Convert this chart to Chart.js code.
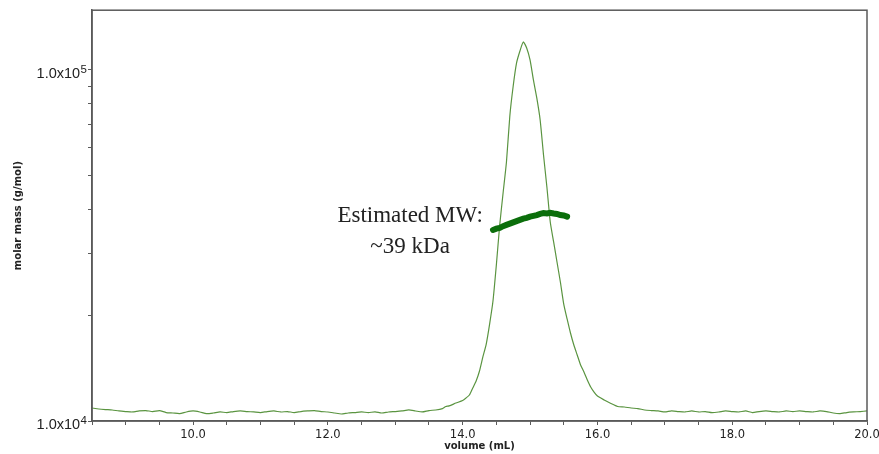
<!DOCTYPE html>
<html>
<head>
<meta charset="utf-8">
<script src="https://cdn.jsdelivr.net/npm/chart.js@4"></script>
<style>
  html, body { margin: 0; padding: 0; background: #ffffff; }
  #wrap { width: 879px; height: 454px; }
</style>
</head>
<body>
<div id="wrap"><canvas id="c" width="879" height="454"></canvas></div>
<script>
// ---- data ----
const volume = [
  8.5, 8.6, 8.7, 8.8, 8.9, 9.0, 9.1, 9.2, 9.3, 9.4, 9.5, 9.6, 9.7, 9.8, 9.9,
  10.0, 10.1, 10.2, 10.3, 10.4, 10.5, 10.6, 10.7, 10.8, 10.9,
  11.0, 11.1, 11.2, 11.3, 11.4, 11.5, 11.6, 11.7, 11.8, 11.9,
  12.0, 12.1, 12.2, 12.3, 12.4, 12.5, 12.6, 12.7, 12.8, 12.9,
  13.0, 13.1, 13.2, 13.3, 13.4, 13.5, 13.6, 13.7, 13.75, 13.8, 13.9,
  14.0, 14.05, 14.1, 14.15, 14.2, 14.25, 14.3, 14.35, 14.4, 14.45,
  14.5, 14.55, 14.6, 14.65, 14.7, 14.75, 14.8, 14.85, 14.9, 14.95,
  15.0, 15.05, 15.1, 15.15, 15.2, 15.25, 15.3, 15.35, 15.4, 15.45,
  15.5, 15.55, 15.6, 15.65, 15.7, 15.75, 15.8, 15.85, 15.9, 15.95,
  16.0, 16.1, 16.2, 16.3, 16.4, 16.5, 16.6, 16.7, 16.8, 16.9,
  17.0, 17.1, 17.2, 17.3, 17.4, 17.5, 17.6, 17.7, 17.8, 17.9,
  18.0, 18.1, 18.2, 18.3, 18.4, 18.5, 18.6, 18.7, 18.8, 18.9,
  19.0, 19.1, 19.2, 19.3, 19.4, 19.5, 19.6, 19.7, 19.8, 19.9, 20.0
];
const signal = [
  10890, 10820, 10780, 10750, 10680, 10640, 10610, 10680, 10710, 10640, 10710, 10570, 10540, 10500, 10610,
  10680, 10610, 10500, 10540, 10610, 10570, 10640, 10680, 10640, 10610,
  10570, 10640, 10680, 10610, 10640, 10570, 10640, 10680, 10710, 10640,
  10610, 10540, 10470, 10540, 10570, 10610, 10570, 10610, 10540, 10610,
  10640, 10680, 10750, 10680, 10610, 10710, 10750, 10850, 11000, 11040, 11250,
  11440, 11630, 11860, 12420, 13000, 13880, 15220, 16570, 18890, 21970,
  27830, 36170, 44630, 54690, 73950, 90030, 104700, 113250, 120180, 115500,
  106780, 93650, 83220, 72040, 57270, 46420, 36890, 32360, 28380, 24890,
  21540, 19530, 17810, 16460, 15420, 14440, 13790, 13090, 12500, 12090,
  11780, 11480, 11220, 11000, 10960, 10890, 10850, 10750, 10710, 10680,
  10610, 10680, 10640, 10610, 10680, 10610, 10640, 10570, 10610, 10680,
  10640, 10610, 10680, 10570, 10640, 10680, 10640, 10610, 10680, 10640,
  10680, 10640, 10610, 10680, 10640, 10540, 10500, 10570, 10610, 10640, 10680
];
const mwVolume = [
  14.45, 14.5, 14.55, 14.6, 14.65, 14.7, 14.75, 14.8, 14.85, 14.9, 14.95,
  15.0, 15.05, 15.1, 15.15, 15.2, 15.25, 15.3, 15.35, 15.4, 15.45, 15.5, 15.55
];
const mwValue = [
  35000, 35300, 35500, 35900, 36200, 36500, 36800, 37100, 37400, 37700, 37900,
  38200, 38400, 38600, 38900, 39100, 39000, 39200, 39000, 38900, 38600, 38500, 38200
];
const xMajorLabels = [10, 12, 14, 16, 18, 20];
const yTickValues = [10000, 20000, 30000, 40000, 50000, 60000, 70000, 80000, 90000, 100000];
const yLabelled = [{value: 10000, base: '1.0x10', exp: '4'}, {value: 100000, base: '1.0x10', exp: '5'}];
const annotationLines = ['Estimated MW:', '~39 kDa'];
const xTitle = 'volume (mL)';
const yTitle = 'molar mass (g/mol)';

// ---- plugins ----
const frame = {
  id: 'frame',
  afterDatasetsDraw(chart) {
    const {ctx, chartArea: a} = chart;
    ctx.save();
    ctx.strokeStyle = '#5a5a5a';
    ctx.lineWidth = 1.5;
    ctx.strokeRect(a.left, a.top, a.right - a.left, a.bottom - a.top);
    ctx.restore();
  }
};
const yLabels = {
  id: 'yLabels',
  afterDraw(chart) {
    const {ctx} = chart;
    const y = chart.scales.y;
    const right = chart.chartArea.left - 5;
    ctx.save();
    ctx.fillStyle = '#222';
    ctx.textBaseline = 'alphabetic';
    yLabelled.forEach(l => {
      const py = y.getPixelForValue(l.value);
      ctx.font = '11.5px "Liberation Sans", Arial, sans-serif';
      ctx.textAlign = 'right';
      const ew = ctx.measureText(l.exp).width;
      ctx.fillText(l.exp, right, py + 3.3);
      ctx.font = '14.5px "Liberation Sans", Arial, sans-serif';
      ctx.fillText(l.base, right - ew - 0.5, py + 8);
    });
    ctx.restore();
  }
};
const annotation = {
  id: 'annotation',
  afterDraw(chart) {
    const {ctx} = chart;
    const x = chart.scales.x.getPixelForValue(13.22);
    const y = chart.scales.y.getPixelForValue(39000);
    ctx.save();
    ctx.fillStyle = '#222';
    ctx.font = '23px "Liberation Serif", "Times New Roman", serif';
    ctx.textAlign = 'center';
    ctx.textBaseline = 'alphabetic';
    ctx.fillText(annotationLines[0], x, y + 8);
    ctx.fillText(annotationLines[1], x, y + 39);
    ctx.restore();
  }
};

const mainPts = volume.map((v, i) => ({x: v, y: signal[i]}));
const mwPts = mwVolume.map((v, i) => ({x: v, y: mwValue[i]}));

new Chart(document.getElementById('c'), {
  type: 'line',
  data: {
    datasets: [
      { data: mwPts, borderColor: '#0b6e0b', borderWidth: 6, pointRadius: 0, tension: 0, borderCapStyle: 'round' },
      { data: mainPts, borderColor: '#5a9440', borderWidth: 1.2, pointRadius: 0, tension: 0.2 }
    ]
  },
  options: {
    responsive: false,
    animation: false,
    events: [],
    layout: { padding: { top: 10, right: 12, left: 0, bottom: 0 } },
    plugins: { legend: { display: false }, tooltip: { enabled: false } },
    scales: {
      x: {
        type: 'linear',
        min: 8.5, max: 20.0,
        afterFit(s) { s.height = 33; s.paddingRight = 0; s.paddingLeft = 0; },
        border: { display: true, color: '#5a5a5a', width: 1.5 },
        grid: { drawOnChartArea: false, drawTicks: true, tickLength: 4, color: '#5a5a5a', lineWidth: 1 },
        ticks: {
          stepSize: 0.5, autoSkip: false, maxRotation: 0, padding: 3,
          color: '#222',
          font: { family: '"DejaVu Sans", sans-serif', size: 11.5 },
          callback: v => xMajorLabels.includes(v) ? v.toFixed(1) : ''
        },
        title: {
          display: true, text: xTitle, color: '#222',
          font: { family: '"DejaVu Sans", sans-serif', size: 10, weight: 'bold' },
          padding: { top: 0, bottom: 2 }
        }
      },
      y: {
        type: 'logarithmic',
        min: 10000, max: 148000,
        afterFit(s) { s.width = 92; },
        afterBuildTicks(s) { s.ticks = yTickValues.map(v => ({value: v})); },
        border: { display: true, color: '#5a5a5a', width: 1.5 },
        grid: { drawOnChartArea: false, drawTicks: true, tickLength: 4, color: '#5a5a5a', lineWidth: 1 },
        ticks: { callback: () => '', autoSkip: false },
        title: {
          display: true, text: yTitle, color: '#222',
          font: { family: '"DejaVu Sans", sans-serif', size: 10, weight: 'bold' },
          padding: { top: 12, bottom: 0 }
        }
      }
    }
  },
  plugins: [frame, yLabels, annotation]
});
</script>
</body>
</html>
